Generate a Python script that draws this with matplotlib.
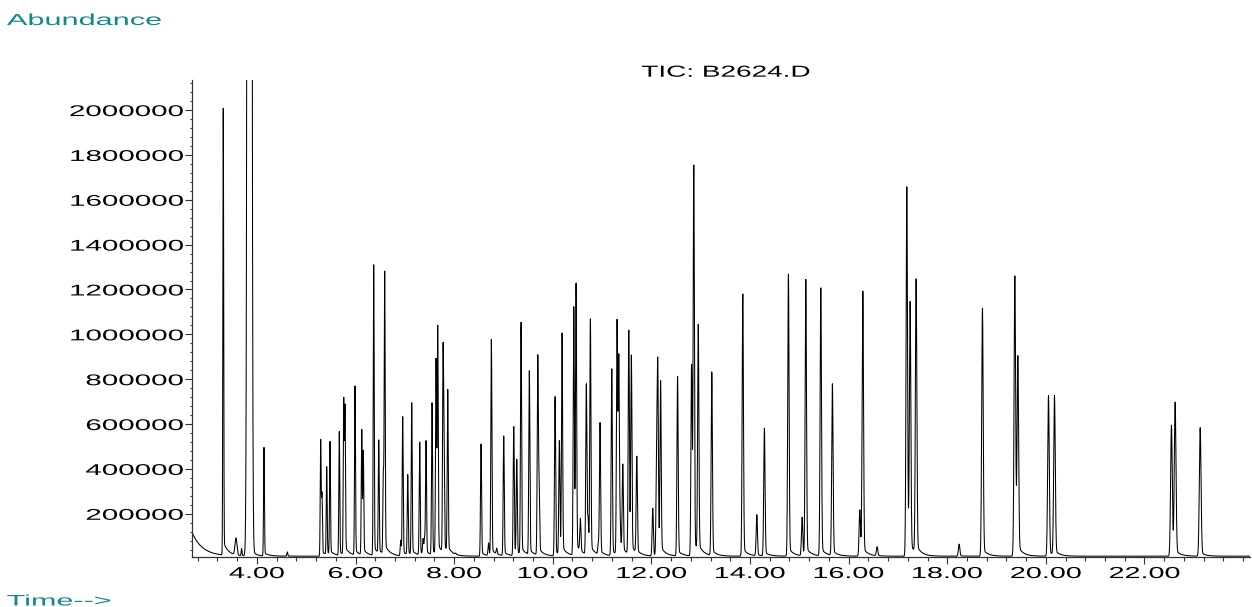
import numpy as np
import matplotlib
matplotlib.use("Agg")
import matplotlib.pyplot as plt
from matplotlib.patheffects import AbstractPathEffect
from matplotlib.transforms import Affine2D
from matplotlib.ticker import MultipleLocator

plt.rcParams['font.family'] = 'Liberation Sans'

# peaks: retention time (min), apex abundance
peak_times = [3.318, 3.69, 4.144, 4.617,
              5.294, 5.320, 5.416, 5.483, 5.671, 5.761, 5.787, 5.990, 6.126, 6.158,
              6.369, 6.471, 6.564, 6.592, 6.917, 6.957, 7.059, 7.140, 7.302, 7.37,
              7.40, 7.430, 7.552, 7.633, 7.667, 7.775, 7.795, 7.870, 8.032,
              8.546, 8.698, 8.755, 8.864, 9.006, 9.209, 9.270, 9.357, 9.525, 9.696,
              9.722, 10.047, 10.134, 10.189, 10.426, 10.473, 10.560, 10.681, 10.716,
              10.763, 10.925, 10.959, 11.197, 11.304, 11.339, 11.365, 11.420, 11.542,
              11.594, 11.704, 12.028, 12.106, 12.130, 12.187, 12.531, 12.815, 12.860,
              12.951, 13.225, 13.854, 14.138, 14.292, 14.779, 15.057, 15.132, 15.436,
              15.671, 16.227, 16.288, 16.578, 17.180, 17.247, 17.369, 18.241, 18.714,
              19.371, 19.432, 20.053, 20.175, 22.547, 22.622, 23.130]
peak_heights = [2008000, 45000, 496000, 30000,
                532000, 298000, 410000, 526000, 570000, 719000, 689000, 770000, 577000, 484000,
                1317000, 532000, 395000, 1282000, 83000, 636000, 377000, 695000, 520000, 90000,
                100000, 526000, 695000, 896000, 1045000, 956000, 588000, 755000, 25000,
                511000, 70000, 982000, 47000, 547000, 591000, 443000, 1058000, 841000, 909000,
                383000, 725000, 526000, 1010000, 1123000, 1233000, 180000, 782000, 190000,
                1073000, 75000, 609000, 849000, 1067000, 915000, 231000, 422000, 1019000,
                908000, 457000, 224000, 532000, 890000, 796000, 814000, 868000, 1755000,
                1048000, 835000, 1180000, 196000, 582000, 1272000, 185000, 1245000, 1207000,
                782000, 218000, 1193000, 53000, 1658000, 1150000, 1250000, 65000, 1117000,
                1263000, 905000, 728000, 728000, 596000, 698000, 584000]

# off-scale solvent peak and the broad hump just before it
solvent_time, solvent_height = 3.85, 30000000
hump_time, hump_height = 3.576, 75000

# trace starts on the tail of the solvent front
lead_level, lead_tau = 110000, 0.21
base_level = 11000

y_ticks = [200000, 400000, 600000, 800000, 1000000, 1200000, 1400000, 1600000, 1800000, 2000000]
x_ticks = [4, 6, 8, 10, 12, 14, 16, 18, 20, 22]


class Stretch(AbstractPathEffect):
    # widen the glyphs like the instrument's print font
    def __init__(self, sx, anchor='left'):
        super().__init__()
        self.sx = sx
        self.anchor = anchor

    def draw_path(self, renderer, gc, tpath, affine, rgbFace=None):
        ext = tpath.get_extents()
        x0 = {'left': ext.x0, 'center': 0.5 * (ext.x0 + ext.x1), 'right': ext.x1}[self.anchor]
        tr = Affine2D().translate(-x0, 0).scale(self.sx, 1).translate(x0, 0) + affine
        renderer.draw_path(gc, tpath, tr, rgbFace)


def peak(t, t0, h, s, tail=0.03, tau=0.1):
    core = h * np.exp(-0.5 * ((t - t0) / s) ** 2)
    # tail switches on just after the apex
    step = 0.5 * (1 + np.tanh((t - t0 - 1.5 * s) / s))
    return core + h * tail * np.exp(-np.clip(t - t0, 0, None) / tau) * step


def background(t):
    b = base_level + lead_level * np.exp(-(t - 2.677) / lead_tau)
    b = b + peak(t, hump_time, hump_height, 0.02, tail=0)
    return b + peak(t, solvent_time, solvent_height, 0.025, tail=0.0015, tau=0.08)


pt = np.array(peak_times)
ph = np.array(peak_heights, dtype=float)
widths = 0.0085 + 0.00045 * (pt - 4)

# overlapping peaks add up, so find amplitudes that put the summed trace
# through the apex heights
M = np.array([[peak(ti, tj, 1.0, sj) for tj, sj in zip(pt, widths)] for ti in pt])
amps = np.clip(np.linalg.solve(M, ph - background(pt)), 0, None)

t = np.arange(2.68, 24.16, 0.002)
signal = background(t)
for t0, a, s in zip(pt, amps, widths):
    signal += peak(t, t0, a, s)

fig = plt.figure(figsize=(12.52, 6.07), dpi=100)
ax = fig.add_axes([192 / 1252, 1 - 557.3 / 607, 1058 / 1252, (557.3 - 80) / 607])
ax.plot(t, signal, color='black', lw=0.75)

ax.set_xlim(2.684, 24.14)
ax.set_ylim(6000, 2134000)

for side in ['top', 'right']:
    ax.spines[side].set_visible(False)
for side in ['left', 'bottom']:
    ax.spines[side].set_color('#333333')
    ax.spines[side].set_linewidth(0.9)

ax.set_xticks(x_ticks)
ax.set_xticklabels(['%.2f' % v for v in x_ticks])
ax.xaxis.set_minor_locator(MultipleLocator(0.4))
ax.set_yticks(y_ticks)
ax.set_yticklabels([str(v) for v in y_ticks])
ax.yaxis.set_minor_locator(MultipleLocator(40000))

ax.tick_params(axis='x', which='major', length=4.8, width=0.8, color='#333333', pad=1.5, labelsize=11.5)
ax.tick_params(axis='x', which='minor', length=2.9, width=0.8, color='#333333')
ax.tick_params(axis='y', which='major', length=4.8, width=0.8, color='#333333', pad=1.5, labelsize=11.2)
ax.tick_params(axis='y', which='minor', length=1.8, width=0.8, color='#333333')

for lab in ax.get_xticklabels():
    lab.set_path_effects([Stretch(1.8, 'center')])
for lab in ax.get_yticklabels():
    lab.set_path_effects([Stretch(1.9, 'right')])

teal = '#118888'
fig.text(7 / 1252, 1 - 25 / 607, 'Abundance', color=teal, fontsize=11.5,
         ha='left', va='baseline', path_effects=[Stretch(1.92, 'left')])
fig.text(7 / 1252, 1.5 / 607, 'Time-->', color=teal, fontsize=11,
         ha='left', va='baseline', path_effects=[Stretch(2.0, 'left')])
fig.text(725.8 / 1252, 1 - 76.7 / 607, 'TIC: B2624.D', color='black', fontsize=11.5,
         ha='center', va='baseline', path_effects=[Stretch(1.75, 'center')])

fig.savefig('out.png', dpi=100)
